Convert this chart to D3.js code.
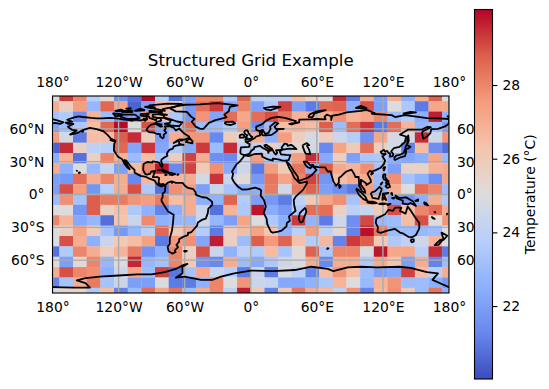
<!DOCTYPE html>
<html>
<head>
<meta charset="utf-8">
<script src="https://cdn.jsdelivr.net/npm/d3@7"></script>
<style>
  body { margin: 0; background: #fff; }
  text { font-family: "DejaVu Sans", sans-serif; fill: #000; }
</style>
</head>
<body>
<div id="chart"></div>
<script>
// temperature per grid row, north to south, west to east
const row00 = [25,29.3,28,23.8,25.3,21.5,20.8,30,23.8,20.8,22,28,28,23.5,28.7,24,24,24,26.5,25.5,25,29.5,21,27,22,27,22.5,27,28.7,25];
const row01 = [27,25.8,27.5,22.8,28.6,27.3,20.5,22,26.8,26,21.8,28.5,29.3,22.3,28,22,23.5,29.2,22,21,28.6,28.7,22.5,29,22,25,23.5,21,27.2,27.2];
const row02 = [23.3,23.6,21.5,26.8,23,21.5,22,27.5,26.5,23.5,21.8,27.7,22.2,28.5,27.2,28.5,29,28.3,26.8,27,27,27.8,26.8,27.2,28,23,23.6,22.5,29.7,22.6];
const row03 = [22,23,23.5,26.5,28.6,30,25,29,22,23,28.5,23,23,23.5,27.5,21.5,23,26.5,26.8,26.5,28.8,23,28.5,29.4,20.9,28.5,26.8,22.8,23,21.8];
const row04 = [27.5,24.7,21,26.5,26.5,28.8,29.5,25.8,22,27,27.7,27.7,21.3,26,24.7,27,22.5,27.5,25.8,24.7,25.8,24.5,23.7,21.5,27.2,24.7,24.7,29.5,24.5,27.7];
const row05 = [20.5,29.5,25.7,24,23.8,28.6,22.2,29.4,22.2,23.5,22.3,29.3,23,29.5,24,24,25.8,24,25.5,24.7,21.3,27.3,26,28.5,25.8,24.7,21.1,26.5,21.5,20.7];
const row06 = [22.5,26.8,20.8,25.7,28,26.8,23,26.5,23.5,25.8,29.2,27,21.5,21.3,24.5,27.5,23.5,23.5,27.5,29.5,22.3,25.7,22,23.4,23.5,22.5,22.2,22.5,27.3,22.9];
const row07 = [27,22.5,25,22.8,24.3,22,26.6,28,29.8,21.3,29.2,26,27.8,22.3,24.5,21,27.5,26,28.3,22.5,28.8,27.1,26.8,27.8,23.3,22,25.6,25.6,26.9,27.1];
const row08 = [22,21.8,28.5,27,28,27,21.3,26.7,27,26.8,27,24.7,29.4,24.3,25.2,21.8,28.3,27.3,28,29.2,21.7,26.5,27,27,23,27.8,23.3,22.6,21.5,27.2];
const row09 = [22,29,27.5,21.7,23.8,27,29,23.5,20.8,27.8,27.5,22,24.4,23.3,22.5,22.5,28.2,24.6,28.2,28.7,22,21.5,21,27.5,22.8,27,25,28.5,28,23];
const row10 = [23,27.8,23.3,28.8,28.2,28.2,27.7,27.5,28.2,26.5,27,22.5,22.6,28.7,23.6,22,21.8,21,24,26,27.3,27.8,23.3,27,26.8,22,21.7,22.5,27,23.5];
const row11 = [25,25,21.7,28.8,25.7,26.4,23.5,22.6,21.2,22.5,27,24.4,20.8,26.8,23.5,29.8,22.4,21.8,23.5,28.5,28.5,25.7,24,24.3,26,29,26.5,28,28.5,27];
const row12 = [28,26.8,22.3,22.8,20.7,26.3,24.4,27.9,22.6,22.8,22.8,24.5,22.8,22,27.3,25,23.5,22.5,29.3,22.7,21,24.5,21.5,29.1,22.9,23,26.5,29,25,27.7];
const row13 = [25,25.7,27.3,26,23.3,21.8,22.8,23.8,28.6,26,27,23.7,21,25.8,26.5,27.3,26.2,22.7,24,27.5,24,25.3,21.2,29.9,28.3,23,23,22.9,23,25];
const row14 = [25,29,27,22.6,24.4,26,26.5,27.4,21,27.6,27.8,22.2,29.7,25.8,23,28.8,27.6,28.7,26.4,23.7,26.7,21.2,29.3,28.8,26,23.5,24,24.5,26.8,25];
const row15 = [20.8,23.6,28,27,25.8,26.8,28.2,21.6,22.5,28,25.7,29,24.4,22.6,24,23.6,26.6,23.3,25.2,28.7,23.5,28,28,24.8,29.8,27.2,27.2,23.8,29.5,21];
const row16 = [25,22,25.3,28,22.8,24.9,29.6,22.8,23.2,28,26,21.6,21.3,27,23,22.3,23.5,24.5,24.9,27,21.3,27,27,23.5,27,26.3,22,27,21.2,23];
const row17 = [27,29,28,27.8,22.5,24.4,27.3,23,29.2,20.9,23.3,27.2,24.3,23.7,21,24.4,21,24.8,24,21.2,26.5,27.7,26.5,23,22,22.3,29.2,26.5,23.8,27];
const row18 = [21.2,23.3,27,28.2,23.3,24.4,22,22,24.9,21,21,22.6,28,25,27.7,24.4,24.2,22.3,22.3,22.6,23.4,26.8,25,22.9,26.8,27.7,23,23,22.5,21.8];
const row19 = [24.8,25.5,25.5,23.5,26.5,21.2,23,28.5,27.2,28.4,23,27,28,24,29.7,26,21.2,26,28.3,27,26.7,24,27.7,21.2,26.7,27.8,26,23,28.3,22.5];
const temps = [row00,row01,row02,row03,row04,row05,row06,row07,row08,row09,row10,row11,row12,row13,row14,row15,row16,row17,row18,row19];

const lonTicks = [-180,-120,-60,0,60,120,180];
const latTicks = [60,30,0,-30,-60];
const barTicks = [22,24,26,28];
const tempRange = [20.02,30.05];

// coastlines, [lon, lat]
const americas = [[-156.6,71.4],[-152.3,70.8],[-145,70],[-140,69.6],[-135,69.5],[-128,70],[-125,69.8],[-120,69.4],[-115,68.5],[-110,68],[-108,67.4],[-105,68.5],[-100,67.8],[-97,68.4],[-96,67.3],[-94,69],[-95.3,71.9],[-92.8,71.5],[-91.5,69.7],[-88,68.6],[-86,67.8],[-85.5,69.8],[-82,69.8],[-81.3,67.5],[-86,66],[-87,64.8],[-90.7,63.6],[-93,61.8],[-94.7,59],[-92.4,57],[-88,56.5],[-85,55.3],[-82.3,55.1],[-82.2,52.9],[-80,51.3],[-79,52],[-79,54.7],[-76.7,56.4],[-78.5,58.8],[-77.3,60],[-78,62.3],[-73.8,62.4],[-70,61],[-68,58.5],[-65,60.3],[-61.7,57],[-60,55.5],[-56,52.9],[-55.7,52],[-60,50.2],[-65,50.3],[-67.2,49],[-70,47],[-66,49],[-65,48],[-65,46.3],[-61,45.3],[-64.4,45.3],[-66,45],[-67,44.9],[-70.1,43.7],[-70.7,41.9],[-74,40.7],[-75.5,38.5],[-76.3,36.9],[-75.7,35.5],[-78.5,33.8],[-81,32],[-81.3,30],[-80,26.9],[-80.4,25.2],[-81.8,26],[-83,29],[-85,29.6],[-89,30.3],[-89.5,29.1],[-94,29.7],[-97.3,27.8],[-97.7,22.5],[-95.9,18.8],[-94.4,18.2],[-91.4,18.9],[-90.5,21],[-87,21.5],[-88,18.4],[-88.9,15.9],[-84.4,15.8],[-83.2,15],[-83.7,11],[-82.5,9.3],[-79.5,9.6],[-77.4,8.7],[-75.5,10.7],[-72,12],[-71.5,10.5],[-71.3,11.8],[-68,10.6],[-62,10.7],[-60,8.3],[-57,6],[-52,4.8],[-50,1.8],[-50,0],[-48,-1],[-44,-2.5],[-40,-2.9],[-37,-5],[-35,-7],[-35,-9.5],[-38.5,-13],[-39,-17],[-40.8,-22],[-44.5,-23.2],[-48,-25.5],[-48.7,-28.5],[-52,-32.2],[-54,-34.5],[-57,-35],[-57,-37],[-62,-39],[-65,-41],[-65,-43],[-67.5,-46],[-66,-48],[-69,-51],[-68.2,-52.6],[-71,-54],[-74.5,-52],[-75.5,-48],[-73.5,-45],[-73.5,-40],[-71.5,-33],[-70.5,-25],[-70,-18.5],[-75,-15.5],[-78,-11],[-81,-6],[-81,-4],[-80,-2.5],[-80,1],[-78,2.5],[-77.5,7],[-79.5,8.9],[-81,7.3],[-83.5,8.4],[-85.7,10],[-87.5,13],[-92,14.5],[-95,16],[-100,17],[-105.5,20],[-105.5,22.5],[-109,25.6],[-113,31],[-114.7,31.5],[-112,26.5],[-109.9,23],[-112,24.7],[-114.5,27.8],[-117,32.5],[-120.5,34.5],[-122.5,37.5],[-124.3,40.3],[-124,46],[-122.8,49],[-127,51],[-130,54.5],[-134,58],[-140,59.8],[-146,60.8],[-152,59],[-158,56],[-164,54.7],[-158,58.5],[-162,59],[-165,61],[-166,62],[-161,64.4],[-166,64.6],[-168,65.7],[-162,66.5],[-166.7,68.3],[-161,70.3],[-156.6,71.4]];
const afroEurasia = [[-9,37],[-9.5,38.8],[-8.9,43],[-1.5,43.5],[-1,46],[-4.7,48.3],[-1.5,48.7],[1.6,50.5],[3.5,51.4],[5,53],[8.5,54],[8,57],[10.5,57.7],[10,55],[11,54],[14,54],[19,54.5],[21,56],[24,58],[23.5,59.3],[30,60],[23,60],[21.5,62],[25,65],[22,65.8],[17.5,62],[18,60],[16,56.2],[13,55.4],[11,59],[8,58],[5,59],[5,62],[10,64],[14,67.5],[19,70],[25,71],[31,70],[41,67],[40,65.5],[35,64.5],[37,64],[40,65],[44,66],[44,68.4],[54,68.7],[60,69],[68,68.7],[67,71],[69,73],[73,71.5],[73,68],[74,72],[80,73],[87,75],[100,76.5],[105,77.5],[113,74],[110,73.8],[128,72.5],[131,70.8],[140,72.5],[152,71],[160,69.8],[170,69.5],[180,69],[180,65],[177,62.5],[170,60],[164,59.8],[163,56],[160,53],[156.7,51],[155.5,56],[156,57.5],[163.5,61.5],[160,61.7],[155,59.2],[143,59.3],[135.5,54.8],[141,53],[140,48],[135,43.5],[130,42.3],[127.5,39.5],[129.3,37],[129,35],[126.5,34.5],[126.5,37.5],[125,38],[124,39.8],[122,39],[121,40.8],[118,39],[119,37.3],[122.5,37],[119.5,35],[122,31],[121,28],[118,24.5],[113.5,22.3],[110,21],[108,21.5],[106,19],[109,13],[109,11.3],[105,8.7],[105,10],[100,13.4],[100,9],[103.5,4],[104,1.4],[101,3],[98.5,8],[98,16],[95,16],[94,18.5],[91.5,22.7],[89,21.8],[86.8,21],[82,16.5],[80,15],[80,11],[77.5,8],[75,12],[73,19],[72.7,21],[70,21],[69,22.3],[67.5,24.8],[61.5,25],[57,25.7],[56.7,27],[54,26.6],[50.9,30],[48,30],[50,26.5],[51.5,25],[54,24],[56.3,26],[58.5,23.6],[59.8,22.4],[55.2,17.5],[52,15.5],[45,12.8],[43.4,12.7],[42.6,16.5],[39,21.5],[35,28],[34.6,28],[32.7,29.9],[32.5,30],[35,24],[37.4,20],[39.5,15.3],[43.2,11.5],[44.5,10.5],[51,11.8],[51,10],[47.5,4.2],[41,-1.7],[39,-5],[39.5,-10],[40.7,-15],[37,-18],[34.7,-20],[35.5,-24],[32.8,-26],[32.5,-29],[28,-33],[25,-34],[20,-34.8],[18.3,-34],[15,-27],[14.4,-22],[11.8,-17],[13.7,-11],[12,-5],[9,-1],[9.5,3.8],[8.5,4.6],[4,6.3],[-2,4.8],[-7.5,4.4],[-11.5,7],[-15,11],[-17,14.7],[-16,19],[-17,21],[-13,27.5],[-10,30],[-7,33.8],[-5.5,35.8],[-2,35],[3,36.8],[10,37.3],[10.5,34.5],[15,32.3],[20,31],[20,32.8],[25,32],[29,31],[32,31.2],[34.5,31.5],[36,36],[32,36.2],[27.5,36.7],[26.3,39.5],[29,41],[35,42],[41.5,41.5],[38,44.5],[37,45.3],[35,45],[33.5,44.5],[33,46],[30.7,46.5],[28,43],[29,41.2],[26,40.5],[23,40.5],[24,38],[22.8,36.5],[21,38.5],[19.5,41.5],[14,45.5],[12.4,45],[13,43.7],[18.5,40.2],[16.8,40],[16,38],[15.5,40],[11,42.5],[8.5,44.4],[3.2,43.2],[3,41.8],[0,39.5],[-0.5,38],[-2,36.8],[-5.5,36],[-9,37]];
const antarctica = [[-180,-84.7],[-160,-85],[-146,-85],[-150,-81],[-158,-78.5],[-150,-76.5],[-137,-75],[-120,-74],[-103,-73],[-90,-73],[-78,-71],[-68,-68],[-61,-64.3],[-57.5,-63.5],[-62,-66],[-62,-72],[-68,-76],[-60,-75],[-45,-78],[-35,-78],[-27,-75],[-15,-72],[0,-69.5],[20,-70],[40,-69],[55,-66],[70,-68],[75,-70],[88,-66.5],[100,-66],[115,-66.5],[135,-66],[145,-67],[160,-71],[170,-72],[165,-78],[180,-84.7]];
const chukotka = [[-180,68.9],[-175,67.5],[-170,66],[-173,64.5],[-178,65.5],[-180,65]];
const islands = [
  chukotka,
  [[-46,60],[-43,60],[-38,65.5],[-32,68],[-22,70.5],[-24,73],[-20,76],[-19,80],[-12,81.5],[-30,83.5],[-46,82.3],[-60,82],[-68,80.5],[-73,78.5],[-68,76],[-58,75.5],[-54,71],[-51,69],[-53.5,66.5],[-50,62],[-46,60]],
  [[-80,73.7],[-89,73],[-89,71],[-84.5,70],[-78,70.2],[-72,68.5],[-67,66.7],[-62,66],[-65,62.5],[-71,62.8],[-78,64.5],[-73.5,65.5],[-72.5,67.7],[-78,69.5],[-80,73.7]],
  [[-105,73],[-117,73],[-118,71],[-112,69],[-105,69],[-101,70],[-105,73]],
  [[-116,73.3],[-125,74],[-123,71.5],[-118,72],[-116,73.3]],
  [[-62,82.8],[-75,83],[-92,81.5],[-88,78.5],[-78,76.5],[-80,78],[-68,80.5],[-62,82.8]],
  [[-80,75],[-92,75],[-92,76.5],[-81,76],[-80,75]],
  [[-107,75],[-117,75.5],[-115,76.5],[-108,76.7],[-107,75]],
  [[-92,74],[-100,73.5],[-100,72],[-96,71.5],[-92,74]],
  [[-96,77],[-105,76.5],[-100,78.5],[-96,77]],
  [[-92,80.5],[-96,80],[-90,78.8],[-87,79.7],[-92,80.5]],
  [[-120,76],[-123,76.5],[-118,77.5],[-116,76.8],[-120,76]],
  [[-98,69.2],[-95,68.8],[-96,68.2],[-98,69.2]],
  [[-110,78],[-113,78.5],[-109,78.8],[-110,78]],
  [[-84,73.5],[-78,73.2],[-76,72.8],[-80,72.5],[-84,73.5]],
  [[-87,65],[-81,64],[-83,62.5],[-87,65]],
  [[-83,62.7],[-80.5,62.3],[-82,62],[-83,62.7]],
  [[-64,49.8],[-62,49.4],[-63.5,49.2],[-64,49.8]],
  [[-55.5,51.5],[-59,48],[-53,46.7],[-52.8,48.5],[-55.5,51.5]],
  [[-85,22],[-80,23],[-74.3,20],[-78,20],[-82,22.6],[-85,22]],
  [[-74.5,18.5],[-73,20],[-68.5,18.7],[-71.5,17.8],[-74.5,18.5]],
  [[-78.3,18.2],[-76.3,18],[-77.5,17.8],[-78.3,18.2]],
  [[-67.2,18.4],[-65.6,18.3],[-66.5,17.9],[-67.2,18.4]],
  [[-128,50],[-125,50],[-123.5,48.5],[-128,50]],
  [[-153.8,57.5],[-152,58.3],[-152.5,57.2],[-153.8,57.5]],
  [[-156,19],[-155,20],[-156,20.2],[-156,19]],
  [[-158.2,21.3],[-157.7,21.5],[-158,21.7],[-158.2,21.3]],
  [[-5,58.6],[-3,58.6],[-2,56],[0,53.5],[1.5,52.5],[1,51.2],[-5,50],[-3,51.5],[-5,52],[-3,54],[-5,55],[-6,57],[-5,58.6]],
  [[-6,52],[-10,52],[-10,54],[-8,55],[-6,54],[-6,52]],
  [[-24,65.5],[-22,64],[-18,63.5],[-14,65],[-16,66.5],[-22,66.3],[-24,65.5]],
  [[14,77.5],[12,79],[20,80.3],[27,80],[18,77],[14,77.5]],
  [[52,71],[56,70.6],[58,74],[68,77],[60,76],[54,73.5],[52,71]],
  [[95,79],[105,79],[100,81],[95,79]],
  [[138,74],[145,75.5],[150,75],[140,73.5],[138,74]],
  [[178,71.3],[180,71.4],[180,70.9],[178,71.3]],
  [[47,45],[51,47],[53,45],[51,44.5],[53,41],[54,37],[50,37.3],[49,39],[47.5,43],[47,45]],
  [[142,46],[143.5,49],[143,54],[142,52],[142,46]],
  [[130,33],[131,31.5],[136,34],[140,35],[141,38],[141,41],[140,41],[139,38],[136,36.5],[132,35.5],[130,33]],
  [[140,42],[141.5,45.5],[145,43.5],[143,42],[140,42]],
  [[120.2,23],[121,25],[122,25],[121,22],[120.2,23]],
  [[109,19],[110.5,20],[111,19.5],[109.5,18.3],[109,19]],
  [[80,9.5],[81.8,7.5],[80.5,6],[80,9.5]],
  [[120.5,18.5],[122.3,18.4],[122,16],[124,13],[121,13.7],[120,16],[120.5,18.5]],
  [[122,8],[125.5,9.7],[126.5,7],[124,6],[122,8]],
  [[117.5,9],[119.5,11],[118,9],[117.5,9]],
  [[122.5,11.5],[125,12.5],[125,10.5],[123,10],[122.5,11.5]],
  [[109,1.5],[113,3],[117,7],[119,5],[117.5,1],[116,-4],[110.5,-3],[109,1.5]],
  [[95.5,5.5],[98,4],[104,-2],[106,-6],[102,-4],[98,0],[95.5,5.5]],
  [[105.5,-6.5],[111,-6.5],[114.5,-7.8],[110,-8.2],[106,-7.5],[105.5,-6.5]],
  [[116,-8.5],[119,-8.2],[122.8,-8.3],[120,-9],[116,-8.5]],
  [[119.5,-5.5],[120,0.8],[125,1.5],[121,0],[123,-5],[120.5,-3],[119.5,-5.5]],
  [[128,2],[128.5,-0.5],[127.5,1],[128,2]],
  [[127.8,-3.2],[130.5,-3],[130,-3.7],[127.8,-3.2]],
  [[124,-10],[127,-8.5],[124,-9],[124,-10]],
  [[131,-0.8],[135,-3.3],[141,-2.6],[146,-5.5],[147.5,-6.5],[150,-10.5],[145,-7.8],[143,-9],[138,-8.3],[138,-5.5],[132.5,-3.5],[131,-0.8]],
  [[149,-6],[152,-4.5],[152,-5.8],[149,-6]],
  [[157,-7],[159.5,-8],[161,-10],[158,-9],[157,-7]],
  [[114,-22],[122,-18],[125,-14],[129,-15],[131,-12],[136.7,-12],[135.5,-15],[140.5,-17.5],[142.5,-11],[145.5,-15],[149,-20.5],[153,-26],[153,-31],[150,-37],[146.5,-39],[143,-38.7],[138,-35.5],[135.5,-34.8],[131,-31.5],[124,-33],[118,-35],[115,-34],[115.5,-30],[113.5,-26],[114,-22]],
  [[145,-41],[148,-41],[148,-43],[146,-43.6],[145,-41]],
  [[173,-34.5],[178.5,-37.7],[175,-41.5],[174.5,-39],[173,-34.5]],
  [[172.5,-41],[174,-41.7],[170.5,-46],[167,-46.3],[172.5,-41]],
  [[164,-20],[167,-22.3],[165.5,-21.8],[164,-20]],
  [[167,-15.5],[167.5,-16.5],[166.8,-15.8],[167,-15.5]],
  [[177.5,-18],[178.5,-17.5],[178,-18.3],[177.5,-18]],
  [[49.5,-12],[50.5,-15.5],[47,-25],[45,-25.5],[43.5,-22],[44.5,-17],[49.5,-12]],
  [[-61,-51.5],[-58,-51.5],[-59.5,-52.3],[-61,-51.5]],
  [[69,-49],[70.5,-49.3],[69.5,-49.8],[69,-49]]
];

const width = 549;
const height = 389;
const map = {left: 52.5, right: 449, top: 96, bottom: 293};
const bar = {left: 474.5, right: 492.5, top: 9.5, bottom: 379};

const svg = d3.select('#chart').append('svg')
  .attr('width', width)
  .attr('height', height);

const lonScale = d3.scaleLinear().domain([-180, 180]).range([map.left, map.right]);
const latScale = d3.scaleLinear().domain([-90, 90]).range([map.bottom, map.top]);

// coolwarm
const colorStops = ['#3b4cc0','#6788ee','#8db0fe','#b7cff9','#dddcdc','#f5c4ac','#f59c7d','#dd5f4b','#b40426'];
const colorScale = d3.scaleLinear()
  .domain(d3.range(9).map(i => tempRange[0] + i * (tempRange[1] - tempRange[0]) / 8))
  .range(colorStops);

svg.append('clipPath').attr('id', 'map-clip')
  .append('rect')
    .attr('x', map.left)
    .attr('y', map.top)
    .attr('width', map.right - map.left)
    .attr('height', map.bottom - map.top);

const mapLayer = svg.append('g').attr('clip-path', 'url(#map-clip)');

// cells are centred on the grid nodes, so the outer ones get cut in half
const lonStep = 360 / (row00.length - 1);
const latStep = 180 / (temps.length - 1);
const cells = temps.flatMap((row, j) => row.map((value, i) => ({
  lon: -180 + i * lonStep,
  lat: 90 - j * latStep,
  value: value
})));

mapLayer.selectAll('rect.cell')
  .data(cells)
  .join('rect')
    .attr('class', 'cell')
    .attr('x', d => lonScale(d.lon - lonStep / 2))
    .attr('y', d => latScale(d.lat + latStep / 2))
    .attr('width', lonScale(lonStep) - lonScale(0) + 0.3)
    .attr('height', latScale(0) - latScale(latStep) + 0.3)
    .attr('fill', d => colorScale(d.value));

// gridlines
mapLayer.selectAll('line.lon')
  .data(lonTicks)
  .join('line')
    .attr('class', 'lon')
    .attr('x1', d => lonScale(d))
    .attr('x2', d => lonScale(d))
    .attr('y1', map.top)
    .attr('y2', map.bottom)
    .attr('stroke', '#ababab')
    .attr('stroke-width', 1.4);

mapLayer.selectAll('line.lat')
  .data(latTicks)
  .join('line')
    .attr('class', 'lat')
    .attr('x1', map.left)
    .attr('x2', map.right)
    .attr('y1', d => latScale(d))
    .attr('y2', d => latScale(d))
    .attr('stroke', '#ababab')
    .attr('stroke-width', 1.4);

const coastLine = d3.line()
  .x(d => lonScale(d[0]))
  .y(d => latScale(d[1]));

mapLayer.selectAll('path.coast')
  .data([americas, afroEurasia, antarctica].concat(islands))
  .join('path')
    .attr('class', 'coast')
    .attr('d', coastLine)
    .attr('fill', 'none')
    .attr('stroke', '#000')
    .attr('stroke-width', 1.8)
    .attr('stroke-linejoin', 'round');

svg.append('rect')
  .attr('x', map.left)
  .attr('y', map.top)
  .attr('width', map.right - map.left)
  .attr('height', map.bottom - map.top)
  .attr('fill', 'none')
  .attr('stroke', '#000')
  .attr('stroke-width', 1.1);

// tick labels all round, no tick marks
const lonLabel = d => Math.abs(d) === 180 || d === 0 ? Math.abs(d) + '°' : Math.abs(d) + (d < 0 ? '°W' : '°E');
const latLabel = d => d === 0 ? '0°' : Math.abs(d) + (d < 0 ? '°S' : '°N');

const labelAxes = [
  {axis: d3.axisTop(lonScale).tickValues(lonTicks).tickFormat(lonLabel), at: [0, map.top - 3]},
  {axis: d3.axisBottom(lonScale).tickValues(lonTicks).tickFormat(lonLabel), at: [0, map.bottom + 3]},
  {axis: d3.axisLeft(latScale).tickValues(latTicks).tickFormat(latLabel), at: [map.left - 2, 0]},
  {axis: d3.axisRight(latScale).tickValues(latTicks).tickFormat(latLabel), at: [map.right + 2, 0]}
];

labelAxes.forEach(item => {
  const g = svg.append('g')
    .attr('transform', `translate(${item.at[0]}, ${item.at[1]})`)
    .call(item.axis.tickSize(0).tickPadding(6));
  g.select('.domain').remove();
  g.selectAll('text')
    .style('font-family', '"DejaVu Sans", sans-serif')
    .style('font-size', '13.89px');
});

svg.append('text')
  .attr('x', (map.left + map.right) / 2)
  .attr('y', 66)
  .attr('text-anchor', 'middle')
  .style('font-size', '16.67px')
  .text('Structured Grid Example');

// colorbar, sits on top of the clipped right hand labels
const barScale = d3.scaleLinear().domain(tempRange).range([bar.bottom, bar.top]);

const gradient = svg.append('linearGradient')
  .attr('id', 'bar-gradient')
  .attr('x1', 0).attr('x2', 0)
  .attr('y1', 1).attr('y2', 0);

gradient.selectAll('stop')
  .data(colorStops)
  .join('stop')
    .attr('offset', (d, i) => i / (colorStops.length - 1))
    .attr('stop-color', d => d);

svg.append('rect')
  .attr('x', bar.left)
  .attr('y', bar.top)
  .attr('width', bar.right - bar.left)
  .attr('height', bar.bottom - bar.top)
  .attr('fill', 'url(#bar-gradient)')
  .attr('stroke', '#000')
  .attr('stroke-width', 1.1);

const barAxis = svg.append('g')
  .attr('transform', `translate(${bar.right}, 0)`)
  .call(d3.axisRight(barScale).tickValues(barTicks).tickSize(4.9).tickPadding(5));

barAxis.select('.domain').remove();
barAxis.selectAll('line').attr('stroke-width', 1.1);
barAxis.selectAll('text')
  .style('font-family', '"DejaVu Sans", sans-serif')
  .style('font-size', '13.89px');

svg.append('text')
  .attr('transform', `translate(535, ${(bar.top + bar.bottom) / 2}) rotate(-90)`)
  .attr('text-anchor', 'middle')
  .style('font-size', '13.89px')
  .text('Temperature (°C)');
</script>
</body>
</html>
